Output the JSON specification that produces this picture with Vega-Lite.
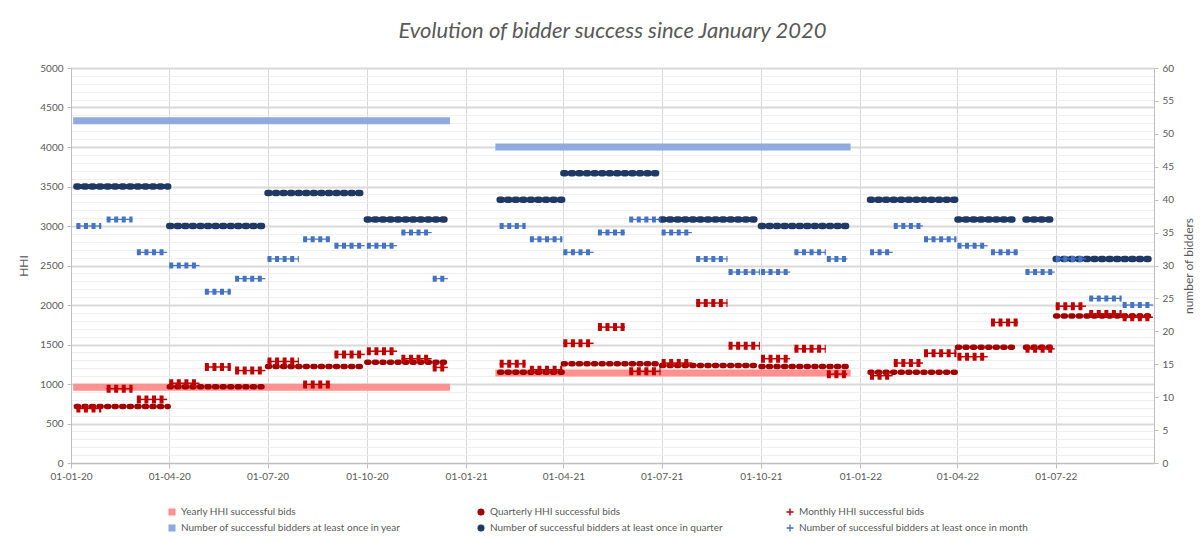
{
  "$schema": "https://vega.github.io/schema/vega-lite/v6.json",
  "autosize": "none",
  "width": 1083,
  "height": 395,
  "padding": {"left": 71, "top": 68, "right": 49, "bottom": 78},
  "background": "white",
  "title": {"text": "Evolution of bidder success since January 2020", "font": "Lato", "fontSize": 22, "fontStyle": "italic", "fontWeight": "normal", "color": "#595959", "anchor": "middle", "frame": "group", "offset": 20},
  "config": {"view": {"stroke": null}},
  "data": {"values": [
    {"series": "Yearly HHI successful bids", "start": "2020-01-03", "end": "2020-12-17", "value": 960},
    {"series": "Yearly HHI successful bids", "start": "2021-01-28", "end": "2021-12-23", "value": 1140},
    {"series": "Number of successful bidders at least once in year", "start": "2020-01-03", "end": "2020-12-17", "value": 52},
    {"series": "Number of successful bidders at least once in year", "start": "2021-01-28", "end": "2021-12-23", "value": 48},
    {"series": "Quarterly HHI successful bids", "start": "2020-01-06", "end": "2020-03-31", "value": 715},
    {"series": "Quarterly HHI successful bids", "start": "2020-04-01", "end": "2020-06-30", "value": 965},
    {"series": "Quarterly HHI successful bids", "start": "2020-07-01", "end": "2020-09-30", "value": 1220},
    {"series": "Quarterly HHI successful bids", "start": "2020-10-01", "end": "2020-12-15", "value": 1275},
    {"series": "Quarterly HHI successful bids", "start": "2021-02-01", "end": "2021-03-31", "value": 1148},
    {"series": "Quarterly HHI successful bids", "start": "2021-04-01", "end": "2021-06-30", "value": 1255},
    {"series": "Quarterly HHI successful bids", "start": "2021-07-01", "end": "2021-09-30", "value": 1235},
    {"series": "Quarterly HHI successful bids", "start": "2021-10-01", "end": "2021-12-20", "value": 1220},
    {"series": "Quarterly HHI successful bids", "start": "2022-01-10", "end": "2022-03-31", "value": 1150},
    {"series": "Quarterly HHI successful bids", "start": "2022-04-01", "end": "2022-05-27", "value": 1465},
    {"series": "Quarterly HHI successful bids", "start": "2022-06-03", "end": "2022-06-30", "value": 1465},
    {"series": "Quarterly HHI successful bids", "start": "2022-07-01", "end": "2022-09-29", "value": 1860},
    {"series": "Number of successful bidders at least once in quarter", "start": "2020-01-06", "end": "2020-03-31", "value": 42},
    {"series": "Number of successful bidders at least once in quarter", "start": "2020-04-01", "end": "2020-06-30", "value": 36},
    {"series": "Number of successful bidders at least once in quarter", "start": "2020-07-01", "end": "2020-09-30", "value": 41},
    {"series": "Number of successful bidders at least once in quarter", "start": "2020-10-01", "end": "2020-12-15", "value": 37},
    {"series": "Number of successful bidders at least once in quarter", "start": "2021-02-01", "end": "2021-03-31", "value": 40},
    {"series": "Number of successful bidders at least once in quarter", "start": "2021-04-01", "end": "2021-06-30", "value": 44},
    {"series": "Number of successful bidders at least once in quarter", "start": "2021-07-01", "end": "2021-09-30", "value": 37},
    {"series": "Number of successful bidders at least once in quarter", "start": "2021-10-01", "end": "2021-12-20", "value": 36},
    {"series": "Number of successful bidders at least once in quarter", "start": "2022-01-10", "end": "2022-03-31", "value": 40},
    {"series": "Number of successful bidders at least once in quarter", "start": "2022-04-01", "end": "2022-05-27", "value": 37},
    {"series": "Number of successful bidders at least once in quarter", "start": "2022-06-03", "end": "2022-06-30", "value": 37},
    {"series": "Number of successful bidders at least once in quarter", "start": "2022-07-01", "end": "2022-09-29", "value": 31},
    {"series": "Monthly HHI successful bids", "start": "2020-01-06", "end": "2020-01-29", "value": 690},
    {"series": "Monthly HHI successful bids", "start": "2020-02-03", "end": "2020-02-27", "value": 940},
    {"series": "Monthly HHI successful bids", "start": "2020-03-02", "end": "2020-03-30", "value": 805},
    {"series": "Monthly HHI successful bids", "start": "2020-04-01", "end": "2020-04-29", "value": 1010},
    {"series": "Monthly HHI successful bids", "start": "2020-05-04", "end": "2020-05-28", "value": 1215},
    {"series": "Monthly HHI successful bids", "start": "2020-06-01", "end": "2020-06-29", "value": 1170},
    {"series": "Monthly HHI successful bids", "start": "2020-07-01", "end": "2020-07-30", "value": 1285},
    {"series": "Monthly HHI successful bids", "start": "2020-08-03", "end": "2020-08-28", "value": 995},
    {"series": "Monthly HHI successful bids", "start": "2020-09-01", "end": "2020-09-29", "value": 1375},
    {"series": "Monthly HHI successful bids", "start": "2020-10-01", "end": "2020-10-29", "value": 1415},
    {"series": "Monthly HHI successful bids", "start": "2020-11-02", "end": "2020-11-30", "value": 1320},
    {"series": "Monthly HHI successful bids", "start": "2020-12-01", "end": "2020-12-15", "value": 1210},
    {"series": "Monthly HHI successful bids", "start": "2021-02-01", "end": "2021-02-25", "value": 1255},
    {"series": "Monthly HHI successful bids", "start": "2021-03-01", "end": "2021-03-31", "value": 1180},
    {"series": "Monthly HHI successful bids", "start": "2021-04-01", "end": "2021-04-29", "value": 1515},
    {"series": "Monthly HHI successful bids", "start": "2021-05-03", "end": "2021-05-28", "value": 1720},
    {"series": "Monthly HHI successful bids", "start": "2021-06-01", "end": "2021-06-30", "value": 1160},
    {"series": "Monthly HHI successful bids", "start": "2021-07-01", "end": "2021-07-29", "value": 1265},
    {"series": "Monthly HHI successful bids", "start": "2021-08-02", "end": "2021-08-31", "value": 2025},
    {"series": "Monthly HHI successful bids", "start": "2021-09-01", "end": "2021-09-30", "value": 1485},
    {"series": "Monthly HHI successful bids", "start": "2021-10-01", "end": "2021-10-28", "value": 1320},
    {"series": "Monthly HHI successful bids", "start": "2021-11-01", "end": "2021-11-30", "value": 1445},
    {"series": "Monthly HHI successful bids", "start": "2021-12-01", "end": "2021-12-20", "value": 1125},
    {"series": "Monthly HHI successful bids", "start": "2022-01-10", "end": "2022-01-31", "value": 1105},
    {"series": "Monthly HHI successful bids", "start": "2022-02-01", "end": "2022-02-28", "value": 1265},
    {"series": "Monthly HHI successful bids", "start": "2022-03-01", "end": "2022-03-31", "value": 1390},
    {"series": "Monthly HHI successful bids", "start": "2022-04-01", "end": "2022-04-29", "value": 1345},
    {"series": "Monthly HHI successful bids", "start": "2022-05-02", "end": "2022-05-27", "value": 1780},
    {"series": "Monthly HHI successful bids", "start": "2022-06-03", "end": "2022-06-30", "value": 1445},
    {"series": "Monthly HHI successful bids", "start": "2022-07-01", "end": "2022-07-29", "value": 1985},
    {"series": "Monthly HHI successful bids", "start": "2022-08-01", "end": "2022-08-31", "value": 1885},
    {"series": "Monthly HHI successful bids", "start": "2022-09-01", "end": "2022-09-29", "value": 1845},
    {"series": "Number of successful bidders at least once in month", "start": "2020-01-06", "end": "2020-01-29", "value": 36},
    {"series": "Number of successful bidders at least once in month", "start": "2020-02-03", "end": "2020-02-27", "value": 37},
    {"series": "Number of successful bidders at least once in month", "start": "2020-03-02", "end": "2020-03-30", "value": 32},
    {"series": "Number of successful bidders at least once in month", "start": "2020-04-01", "end": "2020-04-29", "value": 30},
    {"series": "Number of successful bidders at least once in month", "start": "2020-05-04", "end": "2020-05-28", "value": 26},
    {"series": "Number of successful bidders at least once in month", "start": "2020-06-01", "end": "2020-06-29", "value": 28},
    {"series": "Number of successful bidders at least once in month", "start": "2020-07-01", "end": "2020-07-30", "value": 31},
    {"series": "Number of successful bidders at least once in month", "start": "2020-08-03", "end": "2020-08-28", "value": 34},
    {"series": "Number of successful bidders at least once in month", "start": "2020-09-01", "end": "2020-09-29", "value": 33},
    {"series": "Number of successful bidders at least once in month", "start": "2020-10-01", "end": "2020-10-29", "value": 33},
    {"series": "Number of successful bidders at least once in month", "start": "2020-11-02", "end": "2020-11-30", "value": 35},
    {"series": "Number of successful bidders at least once in month", "start": "2020-12-01", "end": "2020-12-15", "value": 28},
    {"series": "Number of successful bidders at least once in month", "start": "2021-02-01", "end": "2021-02-25", "value": 36},
    {"series": "Number of successful bidders at least once in month", "start": "2021-03-01", "end": "2021-03-31", "value": 34},
    {"series": "Number of successful bidders at least once in month", "start": "2021-04-01", "end": "2021-04-29", "value": 32},
    {"series": "Number of successful bidders at least once in month", "start": "2021-05-03", "end": "2021-05-28", "value": 35},
    {"series": "Number of successful bidders at least once in month", "start": "2021-06-01", "end": "2021-06-30", "value": 37},
    {"series": "Number of successful bidders at least once in month", "start": "2021-07-01", "end": "2021-07-29", "value": 35},
    {"series": "Number of successful bidders at least once in month", "start": "2021-08-02", "end": "2021-08-31", "value": 31},
    {"series": "Number of successful bidders at least once in month", "start": "2021-09-01", "end": "2021-09-30", "value": 29},
    {"series": "Number of successful bidders at least once in month", "start": "2021-10-01", "end": "2021-10-28", "value": 29},
    {"series": "Number of successful bidders at least once in month", "start": "2021-11-01", "end": "2021-11-30", "value": 32},
    {"series": "Number of successful bidders at least once in month", "start": "2021-12-01", "end": "2021-12-20", "value": 31},
    {"series": "Number of successful bidders at least once in month", "start": "2022-01-10", "end": "2022-01-31", "value": 32},
    {"series": "Number of successful bidders at least once in month", "start": "2022-02-01", "end": "2022-02-28", "value": 36},
    {"series": "Number of successful bidders at least once in month", "start": "2022-03-01", "end": "2022-03-31", "value": 34},
    {"series": "Number of successful bidders at least once in month", "start": "2022-04-01", "end": "2022-04-29", "value": 33},
    {"series": "Number of successful bidders at least once in month", "start": "2022-05-02", "end": "2022-05-27", "value": 32},
    {"series": "Number of successful bidders at least once in month", "start": "2022-06-03", "end": "2022-06-30", "value": 29},
    {"series": "Number of successful bidders at least once in month", "start": "2022-07-01", "end": "2022-07-29", "value": 31},
    {"series": "Number of successful bidders at least once in month", "start": "2022-08-01", "end": "2022-08-31", "value": 25},
    {"series": "Number of successful bidders at least once in month", "start": "2022-09-01", "end": "2022-09-29", "value": 24}
  ]},
  "encoding": {
    "x": {"field": "start", "type": "temporal",
      "scale": {"domain": [{"year": 2020, "month": 1, "date": 1}, {"year": 2022, "month": 9, "date": 30}]},
      "axis": {"title": null, "tickCount": {"interval": "month", "step": 3}, "format": "%d-%m-%y", "labelFlush": false, "labelOverlap": false,
        "grid": true, "gridColor": "#d9d9d9", "gridWidth": 1, "domainColor": "#bfbfbf", "tickColor": "#bfbfbf", "tickSize": 5,
        "labelFont": "Lato", "labelFontSize": 10, "labelColor": "#595959", "labelPadding": 3}},
    "x2": {"field": "end"}
  },
  "layer": [
    {
      "encoding": {
        "y": {"field": "value", "type": "quantitative",
          "scale": {"domain": [0, 5000], "nice": false, "zero": true},
          "axis": {"orient": "left", "title": "HHI", "titleFont": "Lato", "titleFontSize": 12, "titleFontWeight": "normal", "titleColor": "#595959", "titlePadding": 9,
            "values": [0,100,200,300,400,500,600,700,800,900,1000,1100,1200,1300,1400,1500,1600,1700,1800,1900,2000,2100,2200,2300,2400,2500,2600,2700,2800,2900,3000,3100,3200,3300,3400,3500,3600,3700,3800,3900,4000,4100,4200,4300,4400,4500,4600,4700,4800,4900,5000],
            "format": "d", "labelExpr": "datum.value % 500 === 0 ? datum.label : ''", "labelOverlap": false,
            "labelFont": "Lato", "labelFontSize": 10, "labelColor": "#595959", "labelPadding": 4,
            "tickSize": 4, "tickColor": "#bfbfbf", "tickOpacity": {"condition": {"test": "datum.value % 500 === 0", "value": 1}, "value": 0},
            "domainColor": "#bfbfbf", "grid": true,
            "gridColor": {"condition": {"test": "datum.value % 500 === 0", "value": "#d9d9d9"}, "value": "#efefef"},
            "gridWidth": {"condition": {"test": "datum.value % 500 === 0", "value": 2}, "value": 1}}}
      },
      "layer": [
        {"transform": [{"filter": {"field": "series", "equal": "Yearly HHI successful bids"}}],
         "mark": {"type": "rule", "color": "#FF9191", "strokeWidth": 7, "strokeCap": "butt"}},
        {"transform": [{"filter": {"field": "series", "equal": "Quarterly HHI successful bids"}}],
         "mark": {"type": "rule", "color": "#A00000", "strokeWidth": 5.5, "strokeCap": "round", "strokeDash": [2, 5.56]}},
        {"transform": [{"filter": {"field": "series", "equal": "Monthly HHI successful bids"}}],
         "mark": {"type": "rule", "color": "#C00000", "strokeWidth": 1.5, "strokeCap": "butt"}},
        {"transform": [{"filter": {"field": "series", "equal": "Monthly HHI successful bids"}}],
         "mark": {"type": "rule", "color": "#C00000", "strokeWidth": 8, "strokeCap": "butt", "strokeDash": [4, 3.56]}},
        {"transform": [{"filter": "datum.value < 0"}],
         "mark": {"type": "point", "filled": true, "opacity": 1},
         "encoding": {
           "color": {"field": "series", "type": "nominal",
             "scale": {"domain": ["Yearly HHI successful bids", "Number of successful bidders at least once in year", "Quarterly HHI successful bids", "Number of successful bidders at least once in quarter", "Monthly HHI successful bids", "Number of successful bidders at least once in month"],
                       "range": ["#FF9191", "#8FAADC", "#A00000", "#1F3864", "#C00000", "#4472C4"]},
             "legend": {"orient": "none", "legendX": 96, "legendY": 439, "columns": 3, "title": null, "symbolSize": 50, "symbolStrokeWidth": 0,
               "labelFont": "Lato", "labelFontSize": 10, "labelColor": "#595959", "columnPadding": 62, "rowPadding": 6, "gridAlign": "all", "labelLimit": 400}},
           "shape": {"field": "series", "type": "nominal",
             "scale": {"domain": ["Yearly HHI successful bids", "Number of successful bidders at least once in year", "Quarterly HHI successful bids", "Number of successful bidders at least once in quarter", "Monthly HHI successful bids", "Number of successful bidders at least once in month"],
                       "range": ["square", "square", "circle", "circle", "M-1,-0.2H1V0.2H-1Z M-0.2,-1H0.2V1H-0.2Z", "M-1,-0.2H1V0.2H-1Z M-0.2,-1H0.2V1H-0.2Z"]}}
         }}
      ]
    },
    {
      "encoding": {
        "y": {"field": "value", "type": "quantitative",
          "scale": {"domain": [0, 60], "nice": false, "zero": true},
          "axis": {"orient": "right", "title": "number of bidders", "titleAngle": 270, "titleFont": "Lato", "titleFontSize": 12, "titleFontWeight": "normal", "titleColor": "#595959", "titlePadding": 22,
            "values": [0,5,10,15,20,25,30,35,40,45,50,55,60], "format": "d",
            "labelFont": "Lato", "labelFontSize": 10, "labelColor": "#595959", "labelPadding": 4,
            "tickSize": 4, "tickColor": "#bfbfbf", "domainColor": "#bfbfbf", "grid": false}}
      },
      "layer": [
        {"transform": [{"filter": {"field": "series", "equal": "Number of successful bidders at least once in year"}}],
         "mark": {"type": "rule", "color": "#8FAADC", "strokeWidth": 7, "strokeCap": "butt"}},
        {"transform": [{"filter": {"field": "series", "equal": "Number of successful bidders at least once in quarter"}}],
         "mark": {"type": "rule", "color": "#1F3864", "strokeWidth": 6.5, "strokeCap": "round", "strokeDash": [2, 5.56]}},
        {"transform": [{"filter": {"field": "series", "equal": "Number of successful bidders at least once in month"}}],
         "mark": {"type": "rule", "color": "#4472C4", "strokeWidth": 1.2, "strokeCap": "butt"}},
        {"transform": [{"filter": {"field": "series", "equal": "Number of successful bidders at least once in month"}}],
         "mark": {"type": "rule", "color": "#4472C4", "strokeWidth": 6, "strokeCap": "butt", "strokeDash": [4, 3.56]}}
      ]
    }
  ],
  "resolve": {"scale": {"y": "independent"}, "axis": {"y": "independent"}}
}
